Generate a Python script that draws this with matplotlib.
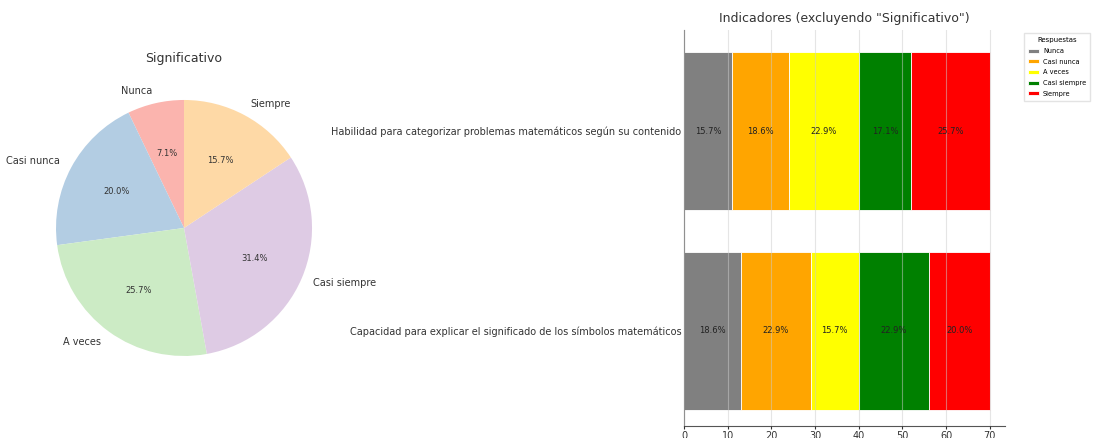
import numpy as np
import matplotlib
matplotlib.use('Agg')
import matplotlib.pyplot as plt

##===========================================
# Data
##===========================================
respuestas = ['Nunca', 'Casi nunca', 'A veces', 'Casi siempre', 'Siempre']

# Pie "Significativo" (n = 70)
sig_counts = [5, 14, 18, 22, 11]
pie_colors = plt.cm.Pastel1(np.arange(5))

# Stacked bars, counts per response (n = 70), bottom to top
indicadores = ['Capacidad para explicar el significado de los símbolos matemáticos',
               'Habilidad para categorizar problemas matemáticos según su contenido']
nunca = [13, 11]
casi_nunca = [16, 13]
a_veces = [11, 16]
casi_siempre = [16, 12]
siempre = [14, 18]
bar_colors = ['gray', 'orange', 'yellow', 'green', 'red']

##===========================================
# Figure
##===========================================
fig = plt.figure(figsize=(10.96, 4.38), dpi=100)

# ---- pie ----
ax1 = fig.add_axes([0.0219, 0.1142, 0.292, 0.7306])
wedges, texts, autotexts = ax1.pie(sig_counts, labels=respuestas, colors=pie_colors,
                                   autopct='%1.1f%%', startangle=90,
                                   textprops={'fontsize': 7, 'color': '#333333'})
for t in autotexts:
    t.set_fontsize(6)
ax1.set_title('Significativo', fontsize=9, color='#333333', pad=4)

# ---- stacked bars ----
ax2 = fig.add_axes([0.6241, 0.0274, 0.2929, 0.9041])
ind = np.arange(len(indicadores))
data = [nunca, casi_nunca, a_veces, casi_siempre, siempre]
totals = np.sum(data, axis=0)
left = np.zeros(len(indicadores))
for name, vals, col in zip(respuestas, data, bar_colors):
    vals = np.array(vals, dtype=float)
    ax2.barh(ind, vals, height=0.79, left=left, color=col, edgecolor='white',
             linewidth=0.6, label=name, zorder=1)
    for i in range(len(ind)):
        pct = vals[i] / totals[i] * 100
        ax2.text(left[i] + vals[i] / 2, ind[i], '%.1f%%' % pct, ha='center',
                 va='center', fontsize=6, color='#222222', zorder=3)
    left += vals

ax2.set_yticks(ind)
ax2.set_yticklabels(indicadores, fontsize=7, color='#333333')
ax2.set_ylim(-0.475, 1.505)
ax2.set_xlim(0, 73.5)
ax2.set_xticks(np.arange(0, 71, 10))
ax2.tick_params(axis='x', labelsize=7, length=2.5, pad=1, colors='#333333')
ax2.tick_params(axis='y', length=0, pad=2)
ax2.grid(axis='x', color='#cccccc', alpha=0.5, linewidth=0.8, zorder=2)
ax2.set_axisbelow(False)
for s in ['top', 'right']:
    ax2.spines[s].set_visible(False)
for s in ['left', 'bottom']:
    ax2.spines[s].set_color('#555555')
    ax2.spines[s].set_linewidth(0.8)
ax2.set_title('Indicadores (excluyendo "Significativo")', fontsize=9, color='#333333', pad=6)

leg = ax2.legend(title='Respuestas', loc='upper left', bbox_to_anchor=(1.05, 1.0),
                 fontsize=4.8, title_fontsize=5, handlelength=1.6, handleheight=0.5,
                 labelspacing=0.7, borderpad=0.6, handletextpad=0.6,
                 frameon=True, fancybox=False, edgecolor='#dddddd')

plt.savefig('out.png', dpi=100)
